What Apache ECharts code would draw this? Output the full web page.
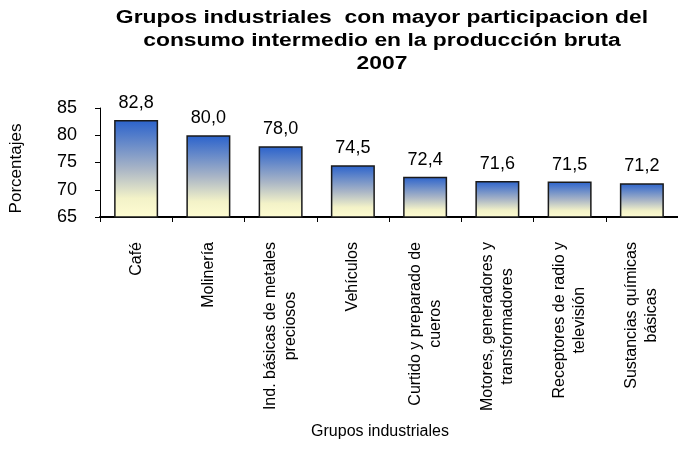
<!DOCTYPE html>
<html>
<head>
<meta charset="utf-8">
<script src="https://cdn.jsdelivr.net/npm/echarts@6/dist/echarts.min.js"></script>
<style>html,body{margin:0;padding:0;background:#fff}#c{width:678px;height:470px}</style>
</head>
<body>
<div id="c"></div>
<script>
var categories = ["Café", "Molinería", "Ind. básicas de metales\npreciosos", "Vehículos", "Curtido y preparado de\ncueros", "Motores, generadores y\ntransformadores", "Receptores de radio y\ntelevisión", "Sustancias químicas\nbásicas"];
var values = [82.8, 80.0, 78.0, 74.5, 72.4, 71.6, 71.5, 71.2];
var yTicks = [65, 70, 75, 80, 85];
var titleText = "Grupos industriales  con mayor participacion del\nconsumo intermedio en la producción bruta\n2007";
var xName = "Grupos industriales";
var yName = "Porcentajes";

var font = "'Liberation Sans', Arial, sans-serif";
var labelFont = '16px ' + font;

// measure lines so that shorter lines can be centred inside each label block
var ctx = document.createElement('canvas').getContext('2d');
ctx.font = labelFont;
var rich = { c: { fontFamily: font, fontSize: 16, color: '#000', lineHeight: 20 } };
var padNames = {};
categories.forEach(function (cat, i) {
  var lines = cat.split('\n');
  var maxW = Math.max.apply(null, lines.map(function (l) { return ctx.measureText(l).width; }));
  lines.forEach(function (l, j) {
    var pad = (maxW - ctx.measureText(l).width) / 2;
    if (pad > 0.5) {
      var nm = 'p' + i + '_' + j;
      rich[nm] = { width: pad, fontSize: 16, fontFamily: font, lineHeight: 20 };
      padNames[i + '_' + j] = nm;
    }
  });
});

var chart = echarts.init(document.getElementById('c'));
chart.setOption({
  animation: false,
  backgroundColor: '#fff',
  grid: { left: 95, top: 108, width: 592, height: 109, containLabel: false },
  xAxis: {
    type: 'category',
    data: categories,
    axisLine: { lineStyle: { color: '#000', width: 2 } },
    axisTick: { show: true, length: 5, lineStyle: { color: '#000' } },
    axisLabel: {
      rotate: 90, margin: 25, interval: 0,
      fontFamily: font, fontSize: 16, color: '#000', lineHeight: 20,
      formatter: function (v, idx) {
        return v.split('\n').map(function (l, j) {
          var s = '{c|' + l + '}';
          var nm = padNames[idx + '_' + j];
          if (nm) s += '{' + nm + '|\u00a0}';
          return s;
        }).join('\n');
      },
      rich: rich
    }
  },
  yAxis: {
    type: 'value',
    min: yTicks[0],
    max: yTicks[yTicks.length - 1],
    interval: 5,
    name: yName,
    nameLocation: 'middle',
    nameGap: 75,
    nameTextStyle: { fontFamily: font, fontSize: 17, color: '#000', padding: [0, 12, 0, 0] },
    splitLine: { show: false },
    axisLine: { show: true, lineStyle: { color: '#000' } },
    axisTick: { show: true, length: 5, lineStyle: { color: '#000' } },
    axisLabel: { fontFamily: font, fontSize: 18, color: '#000', margin: 23 }
  },
  graphic: [{
    type: 'text',
    x: 382,
    y: 7,
    scaleX: 1.27,
    style: {
      text: titleText, textAlign: 'center', textVerticalAlign: 'top',
      font: 'bold 18px ' + font, lineHeight: 23, fill: '#000'
    }
  }, {
    type: 'text',
    x: 380,
    y: 424,
    style: { text: xName, textAlign: 'center', font: '16px ' + font, fill: '#000' }
  }],
  series: [{
    type: 'bar',
    data: values,
    barWidth: 44,
    itemStyle: {
      borderColor: '#1a1a1a',
      borderWidth: 1.5,
      color: new echarts.graphic.LinearGradient(0, 0, 0, 1, [
        { offset: 0, color: '#2a62cc' },
        { offset: 0.5, color: '#a9b5c6' },
        { offset: 0.8, color: '#f3f2c8' },
        { offset: 1, color: '#fffdd2' }
      ])
    },
    label: {
      show: true,
      position: 'top',
      distance: 8,
      fontFamily: font,
      fontSize: 18,
      color: '#000',
      formatter: function (p) { return p.value.toFixed(1).replace('.', ','); }
    }
  }]
});
</script>
</body>
</html>
